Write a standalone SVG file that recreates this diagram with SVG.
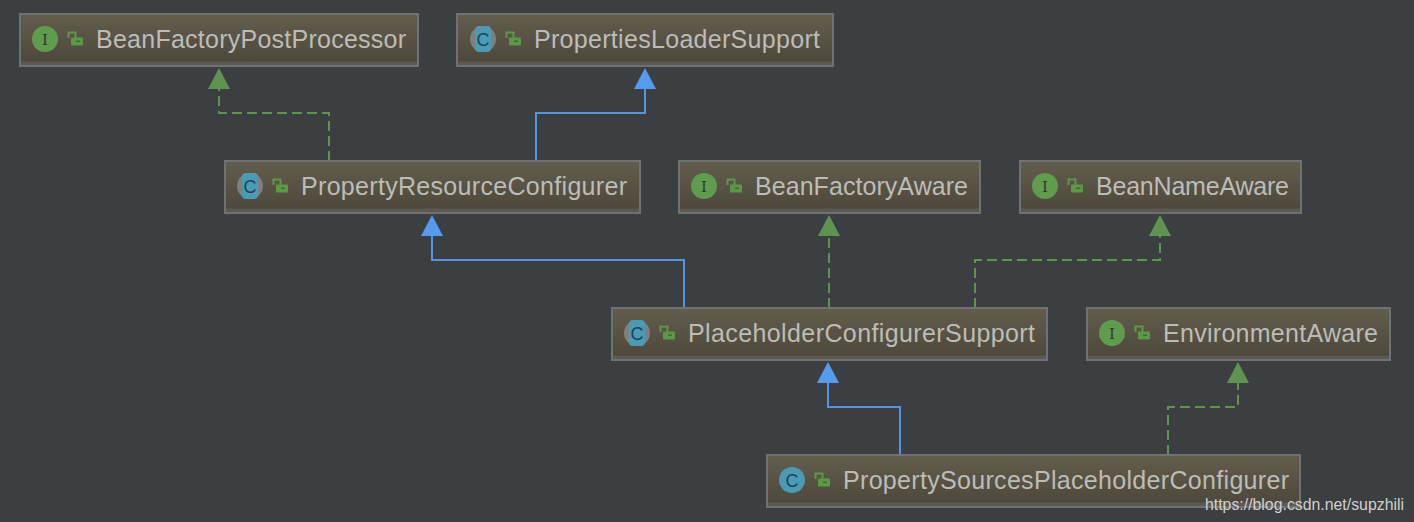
<svg xmlns="http://www.w3.org/2000/svg" xmlns:xlink="http://www.w3.org/1999/xlink" width="1414" height="522" viewBox="0 0 1414 522">
<style>
.box{fill:url(#nodeFill);stroke:#6f7275;stroke-width:2}
.label{font-family:"Liberation Sans",Arial,sans-serif;font-size:25px;fill:#bcbcb8}
.glyph{font-family:"DejaVu Serif",serif;font-size:15px;fill:#2c3a33;text-anchor:middle}
.glyphc{font-family:"Liberation Sans",Arial,sans-serif;font-size:18px;fill:#1f4356;text-anchor:middle}
.impl{fill:none;stroke:#5f9450;stroke-width:2;stroke-dasharray:10 5}
.ext{fill:none;stroke:#5295e6;stroke-width:2}
.tri-g{fill:#5f9450}
.tri-b{fill:#559cf0}
.wm{font-family:"Liberation Sans",Arial,sans-serif;font-size:17px;fill:#d0d0d0}
</style>
<defs>
<linearGradient id="nodeFill" x1="0" y1="0" x2="0" y2="1">
<stop offset="0" stop-color="#635d4d"/><stop offset=".9" stop-color="#4e493c"/><stop offset=".93" stop-color="#5b5950"/><stop offset="1" stop-color="#5b5950"/>
</linearGradient>
<g id="lock">
<path d="M-6.500 -1V-6.500H0.500V-1" fill="none" stroke="#5b9a45" stroke-width="2"/>
<rect x="-4" y="-1.500" width="12" height="8" rx="1" fill="#5b9a45"/>
<rect x="1" y="1.500" width="4" height="1.500" fill="#3e6a33"/>
</g>
<g id="iface">
<circle r="13" fill="#5f9c4d"/>
<text class="glyph" y="5.500">I</text>
</g>
<g id="cls">
<circle r="13" fill="#7d8081"/>
<rect x="-8" y="-13" width="16" height="26" rx="4" fill="#4a9bb5"/>
<text class="glyphc" y="6.500">C</text>
</g>
<g id="clsFull">
<circle r="13" fill="#4a9bb5"/>
<text class="glyphc" y="6.500">C</text>
</g>
</defs>
<rect width="1414" height="522" fill="#3b3f42"/>
<g id="connectors">
<path class="impl" d="M329 161V113H219V88"/>
<path class="tri-g" d="M219 68L230 89H208Z"/>
<path class="ext" d="M536 161V113H645V88"/>
<path class="tri-b" d="M645 68L656 89H634Z"/>
<path class="ext" d="M684 308V260H432V235"/>
<path class="tri-b" d="M432 215L443 236H421Z"/>
<path class="impl" d="M829 308V235"/>
<path class="tri-g" d="M829 215L840 236H818Z"/>
<path class="impl" d="M975 308V260H1160V235"/>
<path class="tri-g" d="M1160 215L1171 236H1149Z"/>
<path class="ext" d="M900 455V407H828V382"/>
<path class="tri-b" d="M828 362L839 383H817Z"/>
<path class="impl" d="M1168 455V407H1238V382"/>
<path class="tri-g" d="M1238 362L1249 383H1227Z"/>
</g>
<g id="BeanFactoryPostProcessor">
<rect class="box" x="20" y="14" width="398" height="52"/>
<use xlink:href="#iface" href="#iface" x="45" y="39"/><use xlink:href="#lock" href="#lock" x="75" y="39"/>
<text class="label" x="96" y="48" textLength="310">BeanFactoryPostProcessor</text>
</g>
<g id="PropertiesLoaderSupport">
<rect class="box" x="457" y="14" width="376" height="52"/>
<use xlink:href="#cls" href="#cls" x="483" y="39"/><use xlink:href="#lock" href="#lock" x="513" y="39"/>
<text class="label" x="534" y="48" textLength="286">PropertiesLoaderSupport</text>
</g>
<g id="PropertyResourceConfigurer">
<rect class="box" x="225" y="161" width="415" height="52"/>
<use xlink:href="#cls" href="#cls" x="250" y="186"/><use xlink:href="#lock" href="#lock" x="280" y="186"/>
<text class="label" x="301" y="195" textLength="326">PropertyResourceConfigurer</text>
</g>
<g id="BeanFactoryAware">
<rect class="box" x="679" y="161" width="301" height="52"/>
<use xlink:href="#iface" href="#iface" x="704" y="186"/><use xlink:href="#lock" href="#lock" x="734" y="186"/>
<text class="label" x="755" y="195" textLength="213">BeanFactoryAware</text>
</g>
<g id="BeanNameAware">
<rect class="box" x="1020" y="161" width="281" height="52"/>
<use xlink:href="#iface" href="#iface" x="1045" y="186"/><use xlink:href="#lock" href="#lock" x="1075" y="186"/>
<text class="label" x="1096" y="195" textLength="193">BeanNameAware</text>
</g>
<g id="PlaceholderConfigurerSupport">
<rect class="box" x="612" y="308" width="435" height="52"/>
<use xlink:href="#cls" href="#cls" x="637" y="333"/><use xlink:href="#lock" href="#lock" x="667" y="333"/>
<text class="label" x="688" y="342" textLength="347">PlaceholderConfigurerSupport</text>
</g>
<g id="EnvironmentAware">
<rect class="box" x="1087" y="308" width="303" height="52"/>
<use xlink:href="#iface" href="#iface" x="1112" y="333"/><use xlink:href="#lock" href="#lock" x="1142" y="333"/>
<text class="label" x="1163" y="342" textLength="215">EnvironmentAware</text>
</g>
<g id="PropertySourcesPlaceholderConfigurer">
<rect class="box" x="767" y="455" width="533" height="52"/>
<use xlink:href="#clsFull" href="#clsFull" x="792" y="480"/><use xlink:href="#lock" href="#lock" x="822" y="480"/>
<text class="label" x="843" y="489" textLength="446">PropertySourcesPlaceholderConfigurer</text>
</g>
<text class="wm" x="1205" y="510" textLength="199" lengthAdjust="spacingAndGlyphs">https://blog.csdn.net/supzhili</text>
</svg>
